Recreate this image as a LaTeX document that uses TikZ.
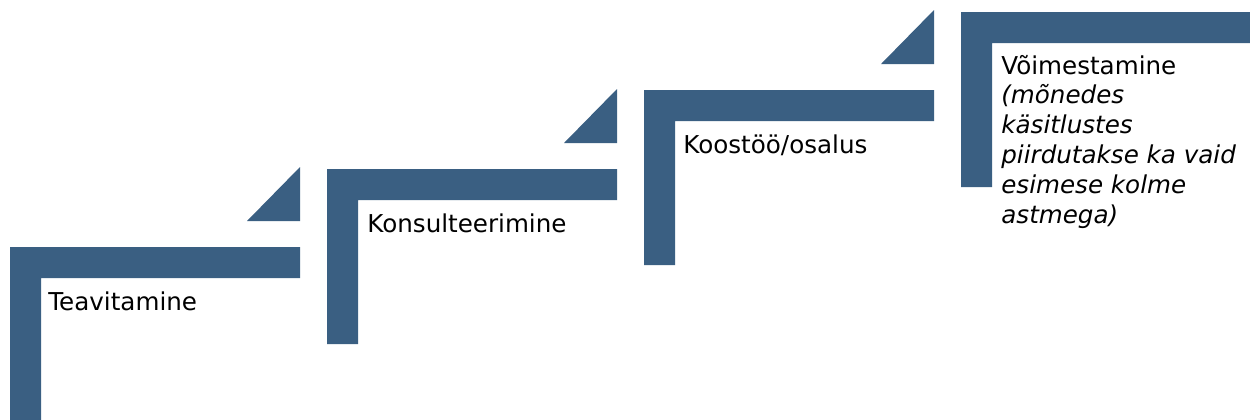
\documentclass[tikz,border=0pt]{standalone}
\usepackage{fontspec}
\setmainfont{DejaVu Sans}
\definecolor{stepblue}{HTML}{3A5F82}
\tikzset{stair/.style={fill=stepblue},
  steplabel/.style={anchor=base west, inner sep=0pt, align=left,
    font=\fontsize{14}{17}\selectfont}}

\begin{document}
\begin{tikzpicture}[x=0.02cm,y=-0.02cm]
    \useasboundingbox (0,0) rectangle (1250,419);
    % stairs: left x, top y, right end of the bar
    \foreach \x/\y/\r in {10/247/300, 327/169/617, 644/90/934, 961/12/1251}{
        \fill[stair] (\x,\y) -- (\r,\y) -- (\r,\y+31) -- (\x+31,\y+31)
            -- (\x+31,\y+175) -- (\x,\y+175) -- cycle;
    }
    % small triangles above the bar ends
    \foreach \r/\y in {300/247, 617/169, 934/90}{
        \fill[stair] (\r,\y-26) -- (\r,\y-80) -- (\r-53,\y-26) -- cycle;
    }
    \node[steplabel] (teavitamine) at (48,310) {Teavitamine};
    \node[steplabel] (konsulteerimine) at (367,232) {Konsulteerimine};
    \node[steplabel] (koostoo) at (683,153) {Koostöö/osalus};
    \node[steplabel] (voimestamine) at (1001,74) {\parbox[t]{5cm}{V\~oimestamine\\
        \itshape (mõnedes\\ käsitlustes\\ piirdutakse ka vaid\\ esimese kolme\\ astmega)}};
\end{tikzpicture}
\end{document}
